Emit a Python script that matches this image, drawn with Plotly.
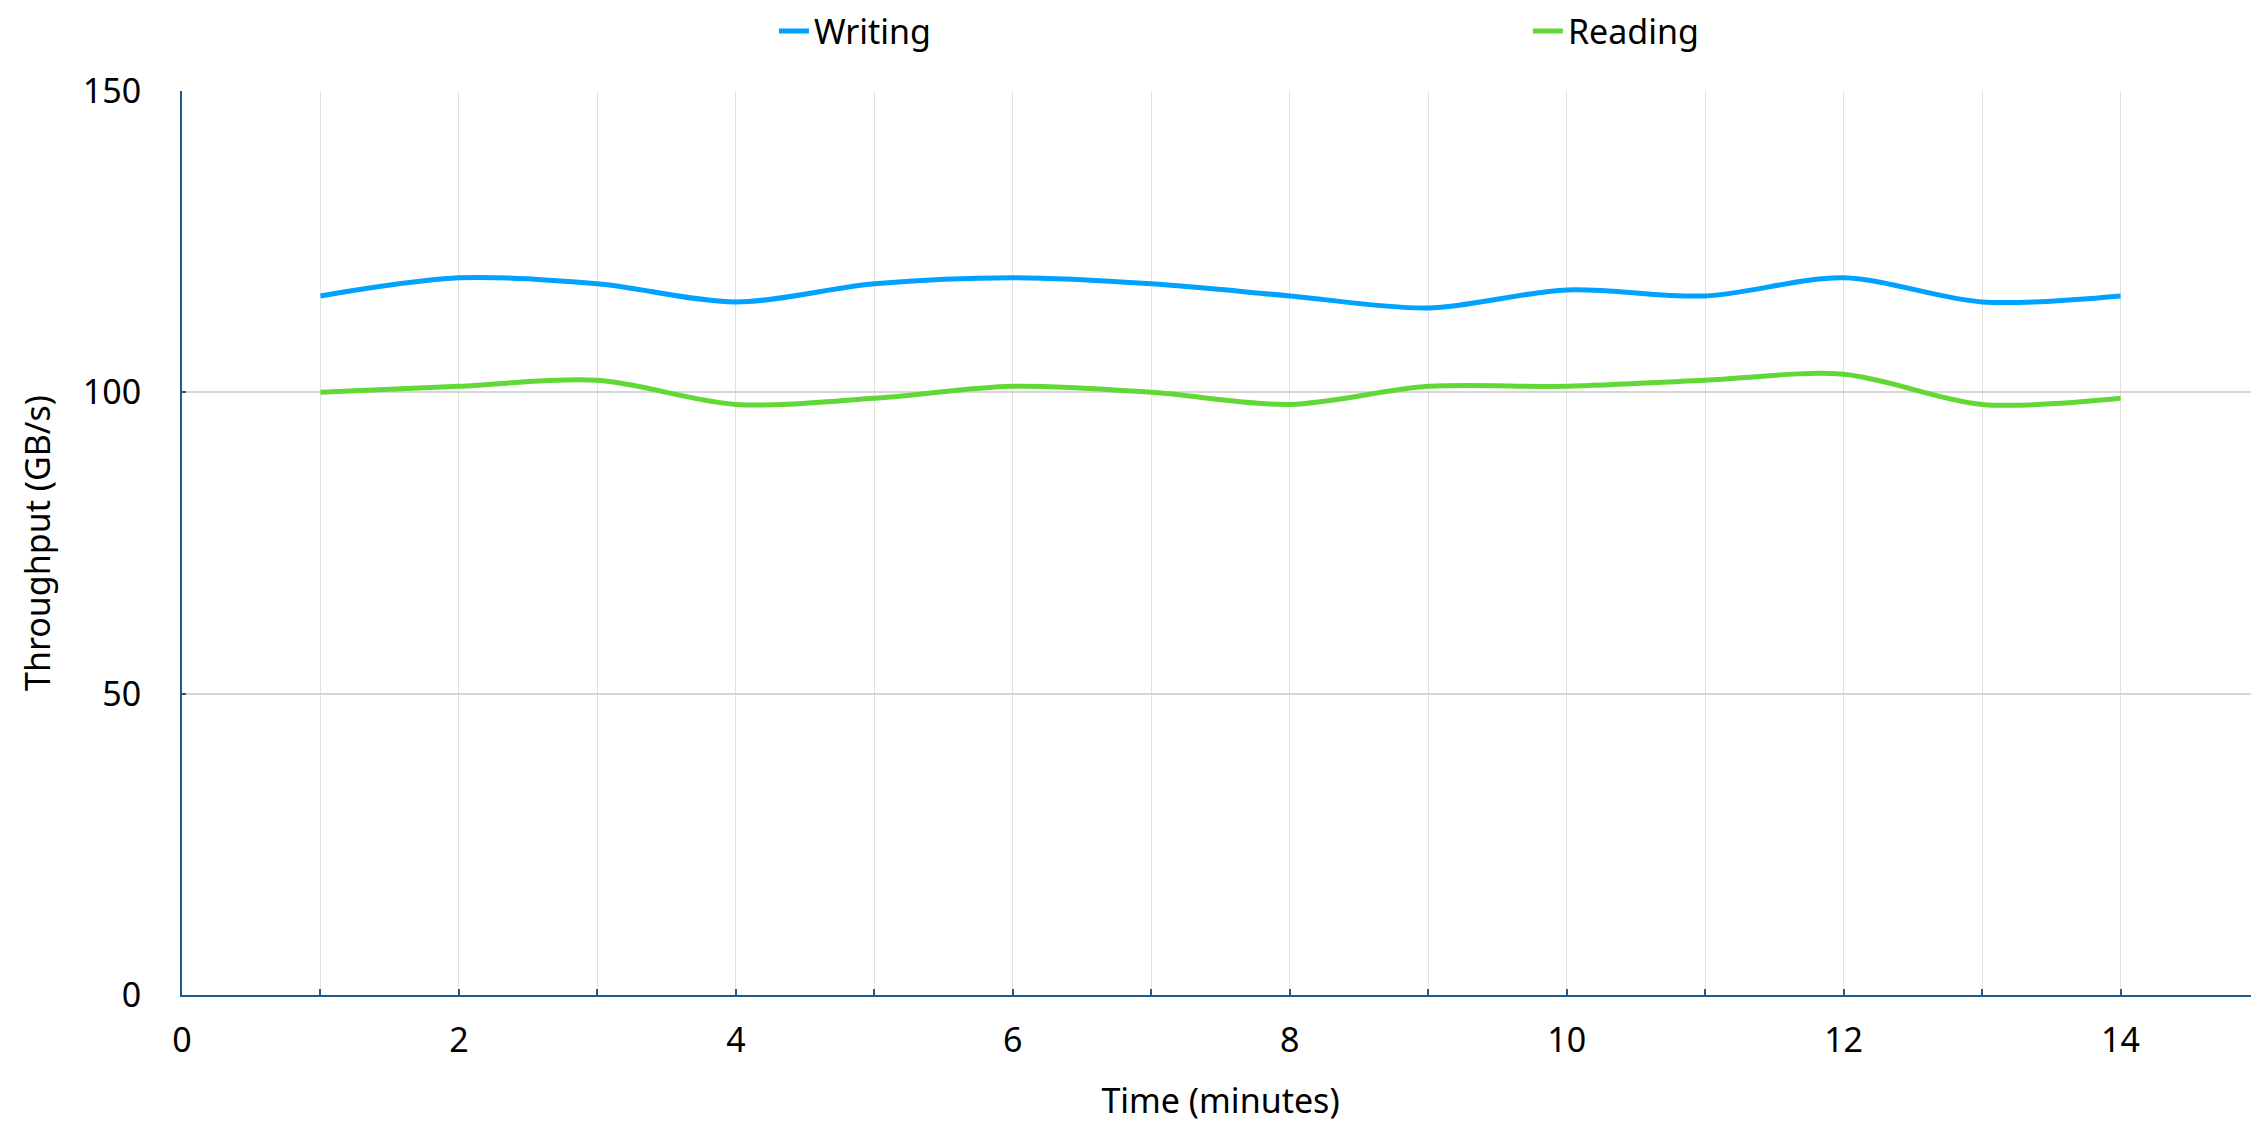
import plotly.graph_objects as go

minutes = [1, 2, 3, 4, 5, 6, 7, 8, 9, 10, 11, 12, 13, 14]
writing = [116, 119, 118, 115, 118, 119, 118, 116, 114, 117, 116, 119, 115, 116]
reading = [100, 101, 102, 98, 99, 101, 100, 98, 101, 101, 102, 103, 98, 99]
y_ticks = [0, 50, 100, 150]
x_ticks = [0, 2, 4, 6, 8, 10, 12, 14]

FONT = "Noto Sans"
AXIS = "#1d5b8f"

fig = go.Figure()
fig.add_trace(go.Scatter(x=minutes, y=writing, name="Writing", mode="lines", showlegend=True,
                         line=dict(color="#00a2ff", width=5, shape="spline", smoothing=0.9),
                         legend="legend"))
fig.add_trace(go.Scatter(x=minutes, y=reading, name="Reading", mode="lines", showlegend=True,
                         line=dict(color="#61d836", width=5, shape="spline", smoothing=0.9),
                         legend="legend2"))

fig.update_layout(
    width=2251, height=1115,
    showlegend=True,
    margin=dict(l=174, r=0, t=83, b=128, autoexpand=False),
    paper_bgcolor="white", plot_bgcolor="white",
    font=dict(family=FONT, size=34, color="#000000"),
    legend=dict(x=0.285, y=1.066, xanchor="left", yanchor="middle", visible=True,
                bgcolor="rgba(0,0,0,0)", font=dict(size=34)),
    legend2=dict(x=0.648, y=1.066, xanchor="left", yanchor="middle", visible=True,
                 bgcolor="rgba(0,0,0,0)", font=dict(size=34)),
    xaxis=dict(range=[0, 15], tickvals=x_ticks, ticks="inside", ticklen=6, tickwidth=1.5,
               tickcolor=AXIS, showline=True, linecolor=AXIS, linewidth=2,
               showgrid=True, gridcolor="#e0e0e0", gridwidth=1,
               minor=dict(dtick=1, tick0=0, ticks="inside", ticklen=6, tickwidth=1.5, tickcolor=AXIS,
                          showgrid=True, gridcolor="#e0e0e0", gridwidth=1),
               zeroline=False, ticklabelstandoff=14, automargin=False,
               title=dict(text="Time (minutes)", font=dict(size=34), standoff=30)),
    yaxis=dict(range=[0, 150], tickvals=y_ticks, ticks="inside", ticklen=4, tickwidth=2,
               tickcolor=AXIS, showline=True, linecolor=AXIS, linewidth=2,
               showgrid=True, gridcolor="#d6d6d6", gridwidth=2,
               zeroline=False, ticklabelstandoff=32, automargin=False,
               title=dict(text="Throughput (GB/s)", font=dict(size=34), standoff=22)),
)

fig.write_html("out.html")
